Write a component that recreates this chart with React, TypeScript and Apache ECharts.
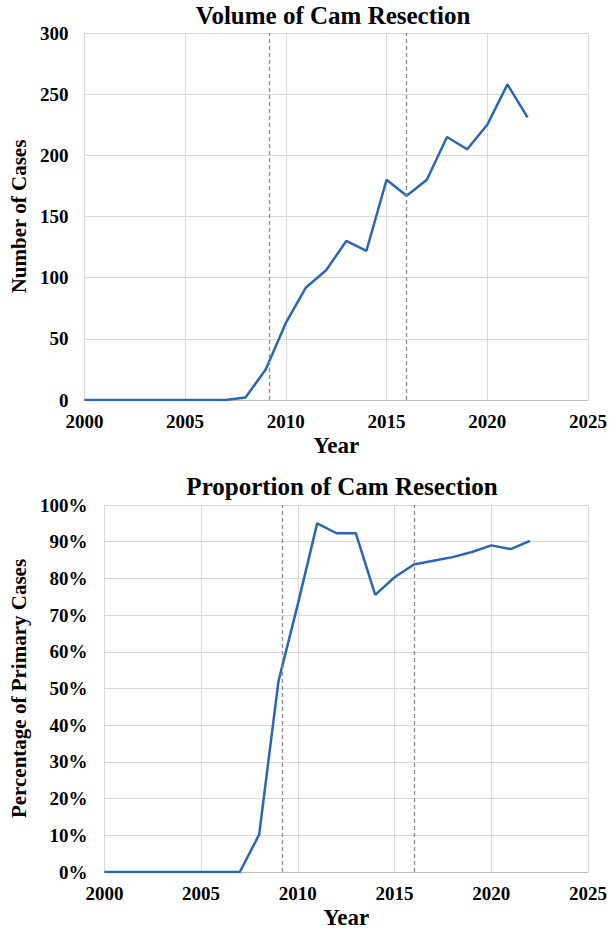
import React, { useEffect, useRef } from "react";
import * as echarts from "echarts";

const years = [2000, 2001, 2002, 2003, 2004, 2005, 2006, 2007, 2008, 2009, 2010, 2011, 2012, 2013, 2014, 2015, 2016, 2017, 2018, 2019, 2020, 2021, 2022];
const volume = [0, 0, 0, 0, 0, 0, 0, 0, 2, 25, 63, 92, 106, 130, 122, 180, 167, 180, 215, 205, 225, 258, 231];
const proportion = [0, 0, 0, 0, 0, 0, 0, 0, 10.2, 52, 73, 95, 92.3, 92.3, 75.5, 80.3, 83.8, 84.8, 85.8, 87.2, 89, 88, 90.2];
const markerYears = [2009.17, 2016];

const FONT = "'Liberation Serif', 'Times New Roman', serif";
const LINE = "#2a66b8";
const GRIDC = "#d9d9d9";

export default function App() {
  const ref = useRef<HTMLDivElement>(null);
  useEffect(() => {
    document.body.style.margin = "0";
    const chart = echarts.init(ref.current!, null, { renderer: "svg" });
    const textBase = { fontFamily: FONT, fontWeight: "bold" as const, color: "#000" };
    const xAxisBase = (gridIndex: number, gap: number) => ({
      type: "value" as const,
      gridIndex,
      min: 2000,
      max: 2025,
      interval: 5,
      name: "Year",
      nameLocation: "middle" as const,
      nameGap: gap,
      nameTextStyle: { ...textBase, fontSize: 23 },
      axisLine: { show: true, lineStyle: { color: "#bfbfbf", width: 1 } },
      axisTick: { show: false },
      axisLabel: { ...textBase, fontSize: 19, margin: 12, formatter: (v: number) => String(v) },
      splitLine: { show: true, lineStyle: { color: GRIDC, width: 1 } },
    });
    const mk = (data: number[]) => ({
      silent: true,
      symbol: "none",
      label: { show: false },
      lineStyle: { color: "#8c8c8c", type: [4, 3] as any, width: 1.3 },
      data: markerYears.map((x) => ({ xAxis: x })),
    });
    chart.setOption({
      animation: false,
      backgroundColor: "#fff",
      title: [
        { text: "Volume of Cam Resection", left: 333, top: 3, textAlign: "center", padding: 0, textStyle: { ...textBase, fontSize: 25 } },
        { text: "Proportion of Cam Resection", left: 342, top: 474, textAlign: "center", padding: 0, textStyle: { ...textBase, fontSize: 25 } },
      ],
      grid: [
        { left: 78, top: 33, width: 510, height: 367 },
        { left: 97, top: 505, width: 491, height: 367 },
      ],
      xAxis: [xAxisBase(0, 34), xAxisBase(1, 34)],
      yAxis: [
        {
          type: "value",
          gridIndex: 0,
          min: 0,
          max: 300,
          interval: 50,
          name: "Number of Cases",
          nameLocation: "middle",
          nameGap: 50,
          nameTextStyle: { ...textBase, fontSize: 21 },
          axisLine: { show: false },
          axisTick: { show: false },
          axisLabel: { ...textBase, fontSize: 19, margin: 16 },
          splitLine: { show: true, lineStyle: { color: GRIDC, width: 1 } },
        },
        {
          type: "value",
          gridIndex: 1,
          min: 0,
          max: 100,
          interval: 10,
          name: "Percentage of Primary Cases",
          nameLocation: "middle",
          nameGap: 69,
          nameTextStyle: { ...textBase, fontSize: 21 },
          axisLine: { show: false },
          axisTick: { show: false },
          axisLabel: { ...textBase, fontSize: 19, margin: 17, formatter: "{value}%" },
          splitLine: { show: true, lineStyle: { color: GRIDC, width: 1 } },
        },
      ],
      series: [
        {
          type: "line",
          xAxisIndex: 0,
          yAxisIndex: 0,
          data: years.map((y, i) => [y, volume[i]]),
          showSymbol: false,
          lineStyle: { color: LINE, width: 2.5 },
          itemStyle: { color: LINE },
          markLine: mk(volume),
        },
        {
          type: "line",
          xAxisIndex: 1,
          yAxisIndex: 1,
          data: years.map((y, i) => [y, proportion[i]]),
          showSymbol: false,
          lineStyle: { color: LINE, width: 2.5 },
          itemStyle: { color: LINE },
          markLine: mk(proportion),
        },
      ],
    });
    return () => chart.dispose();
  }, []);
  return <div ref={ref} style={{ width: 611, height: 935 }} />;
}
